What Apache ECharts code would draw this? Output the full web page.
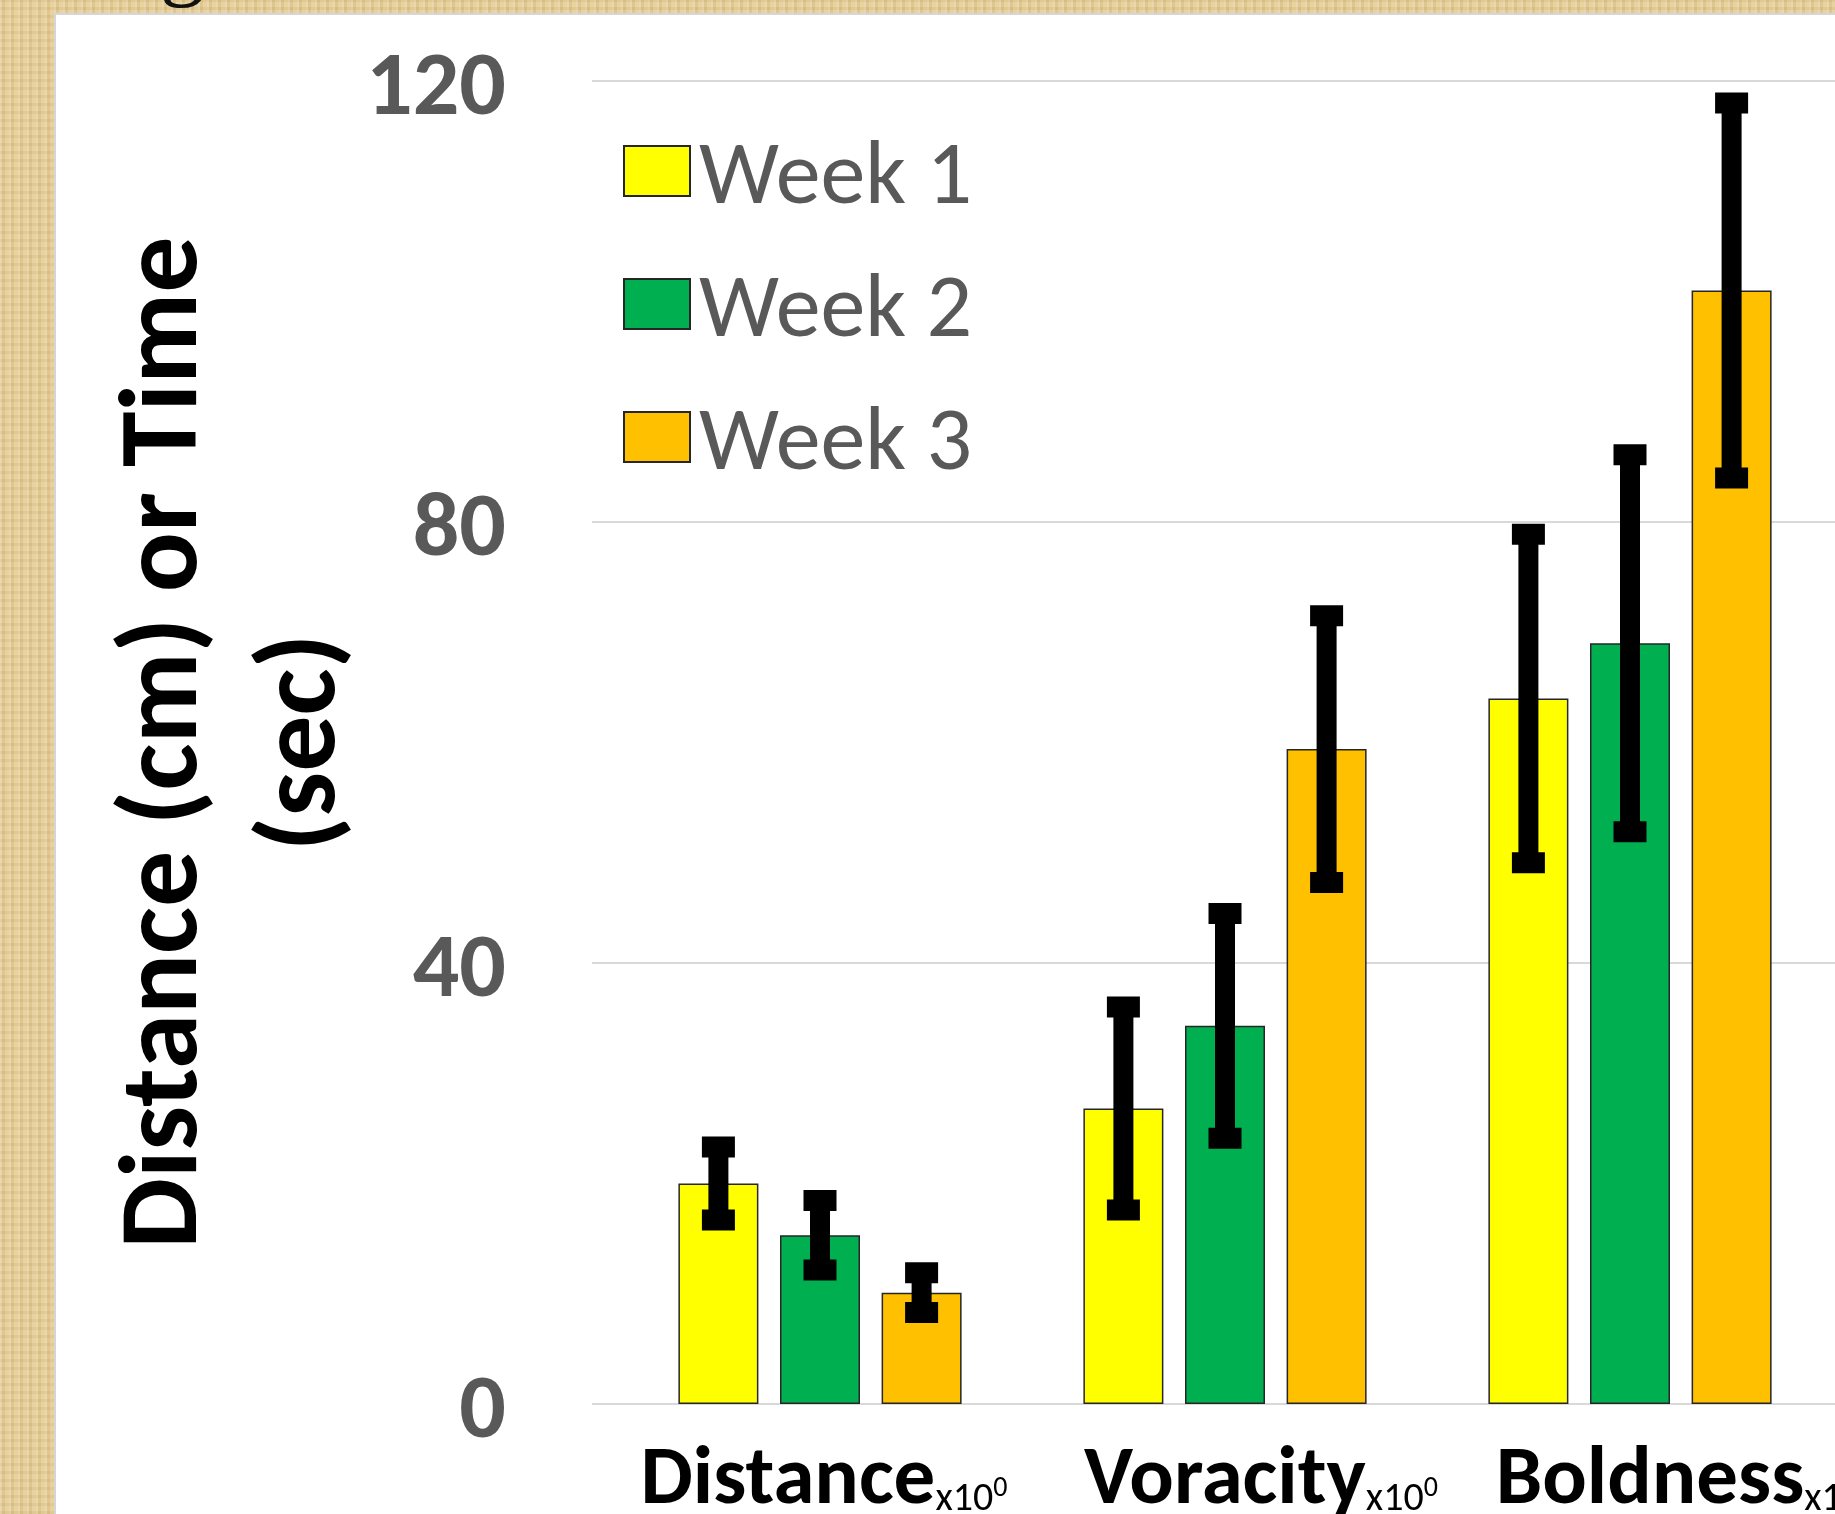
<!DOCTYPE html>
<html>
<head>
<meta charset="utf-8">
<title>Distance, Voracity and Boldness by week</title>
<script src="https://cdn.jsdelivr.net/npm/echarts@6/dist/echarts.min.js"></script>
<style>
  html, body { margin: 0; width: 1835px; height: 1514px; overflow: hidden; }
  body {
    background-color: #e3cb95;
    background-image:
      repeating-linear-gradient(90deg, rgba(255,255,255,0.18) 0 2px, rgba(150,110,40,0.08) 2px 5px, rgba(255,240,200,0.12) 5px 9px),
      repeating-linear-gradient(0deg, rgba(170,130,50,0.10) 0 3px, rgba(255,255,255,0.06) 3px 8px);
  }
  #panel {
    position: absolute; left: 54px; top: 13px; right: 0; bottom: 0;
    background: #fff; border-left: 2px solid #d6d6d6; border-top: 2px solid #d6d6d6;
  }
  #chart { position: absolute; left: 0; top: 0; width: 1835px; height: 1514px; }
</style>
</head>
<body>
<div id="panel"></div>
<div id="chart"></div>
<script>
// data
const categories = ['Distance', 'Voracity', 'Boldness']
const exponents = ['0', '0', '0']
const weeks = ['Week 1', 'Week 2', 'Week 3']
const week1Mean = [20.0, 26.8, 64.0]
const week2Mean = [15.3, 34.3, 69.0]
const week3Mean = [10.1, 59.4, 101.0]
const week1Err = [3.3, 9.2, 14.9]
const week2Err = [3.15, 10.2, 17.1]
const week3Err = [1.8, 12.1, 17.0]
const yTicks = [0, 40, 80, 120]

const WEEK_COLORS = ['#ffff00', '#00b050', '#ffc000']
const BAR_WIDTH = 80
const BAR_GAP = 0.27
const LABEL_SHIFT = [8, 72, 112] // extra left padding on each category label
const FONT = 'Carlito, Lato, "Open Sans", sans-serif'

const means = [week1Mean, week2Mean, week3Mean]
const errs = [week1Err, week2Err, week3Err]

// [category, week, low, high]
const errorData = []
means.forEach((arr, w) => {
  arr.forEach((m, c) => {
    errorData.push([c, w, m - errs[w][c], m + errs[w][c]])
  })
})

function renderErrorBar(params, api) {
  const cat = api.value(0)
  const week = api.value(1)
  const lo = api.coord([cat, api.value(2)])
  const hi = api.coord([cat, api.value(3)])
  const x = lo[0] + (week - 1) * BAR_WIDTH * (1 + BAR_GAP)
  const style = { fill: '#000' }
  return {
    type: 'group',
    children: [
      { type: 'rect', shape: { x: x - 10, y: hi[1], width: 20, height: lo[1] - hi[1] }, style },
      { type: 'rect', shape: { x: x - 16.5, y: hi[1] - 10.5, width: 33, height: 21 }, style },
      { type: 'rect', shape: { x: x - 16.5, y: lo[1] - 10.5, width: 33, height: 21 }, style }
    ]
  }
}

const rich = {
  sub: { fontFamily: FONT, fontSize: 40, color: '#000', lineHeight: 86, verticalAlign: 'bottom', padding: [0, 0, 4, 0] },
  sup: { fontFamily: FONT, fontSize: 28, color: '#000', lineHeight: 86, verticalAlign: 'bottom', padding: [0, 0, 21, 0] }
}
categories.forEach((c, i) => {
  rich['n' + i] = {
    fontFamily: FONT, fontSize: 83, fontWeight: 'bold', color: '#000',
    lineHeight: 86, verticalAlign: 'bottom', padding: [0, 0, 0, LABEL_SHIFT[i]]
  }
})

const chart = echarts.init(document.getElementById('chart'), null, { renderer: 'canvas' })

const option = {
  backgroundColor: 'transparent',
  animation: false,
  textStyle: { fontFamily: FONT },
  graphic: [
    {
      type: 'text', left: 160, top: -80, silent: true,
      style: { text: 'g', font: '90px "Liberation Serif", "DejaVu Serif", serif', fill: '#111' }
    }
  ],
  legend: {
    orient: 'vertical',
    left: 618,
    top: 112,
    itemWidth: 66,
    itemHeight: 50,
    itemGap: 25,
    icon: 'rect',
    data: weeks,
    formatter: '{t|{name}}',
    textStyle: {
      rich: {
        t: { fontFamily: FONT, fontSize: 90, lineHeight: 90, color: '#595959', padding: [18, 0, 0, 4] }
      }
    }
  },
  grid: [
    { left: 592, right: 0, top: 81, bottom: 110, outerBoundsMode: 'none' },
    { left: 617.5, width: 405 * categories.length, top: 81, bottom: 110, outerBoundsMode: 'none' }
  ],
  xAxis: [
    { gridIndex: 0, type: 'category', data: categories, show: false },
    {
      gridIndex: 1,
      type: 'category',
      data: categories,
      axisLine: { show: false },
      axisTick: { show: false },
      axisLabel: {
        interval: 0,
        margin: 34,
        hideOverlap: false,
        formatter: (value, idx) => `{n${idx}|${value}}{sub|x10}{sup|${exponents[idx]}}`,
        rich
      }
    }
  ],
  yAxis: [
    {
      gridIndex: 0,
      type: 'value',
      min: yTicks[0],
      max: yTicks[yTicks.length - 1],
      interval: yTicks[1] - yTicks[0],
      axisLine: { show: false },
      axisTick: { show: false },
      axisLabel: {
        margin: 86,
        formatter: '{v|{value}}',
        rich: {
          v: { fontFamily: FONT, fontSize: 92, lineHeight: 92, fontWeight: 'bold', color: '#595959', padding: [20, 0, 0, 0] }
        }
      },
      splitLine: { lineStyle: { color: '#d9d9d9', width: 2 } },
      name: 'Distance (cm) or Time\n(sec)',
      nameLocation: 'middle',
      nameRotate: 90,
      nameGap: 217,
      nameMoveOverlap: false,
      nameTextStyle: {
        fontFamily: FONT, fontSize: 112, fontWeight: 'bold', color: '#000',
        lineHeight: 138, align: 'center'
      }
    },
    {
      gridIndex: 1,
      type: 'value',
      min: yTicks[0],
      max: yTicks[yTicks.length - 1],
      interval: yTicks[1] - yTicks[0],
      show: false,
      splitLine: { show: false }
    }
  ],
  series: [
    ...weeks.map((name, w) => ({
      name,
      type: 'bar',
      xAxisIndex: 1,
      yAxisIndex: 1,
      data: means[w],
      barWidth: BAR_WIDTH,
      barGap: (BAR_GAP * 100) + '%',
      itemStyle: { color: WEEK_COLORS[w], borderColor: '#262626', borderWidth: 1.5 }
    })),
    {
      name: 'SE',
      type: 'custom',
      xAxisIndex: 1,
      yAxisIndex: 1,
      renderItem: renderErrorBar,
      encode: { x: 0, y: [2, 3] },
      data: errorData,
      z: 5
    }
  ]
}

chart.setOption(option)
</script>
</body>
</html>
